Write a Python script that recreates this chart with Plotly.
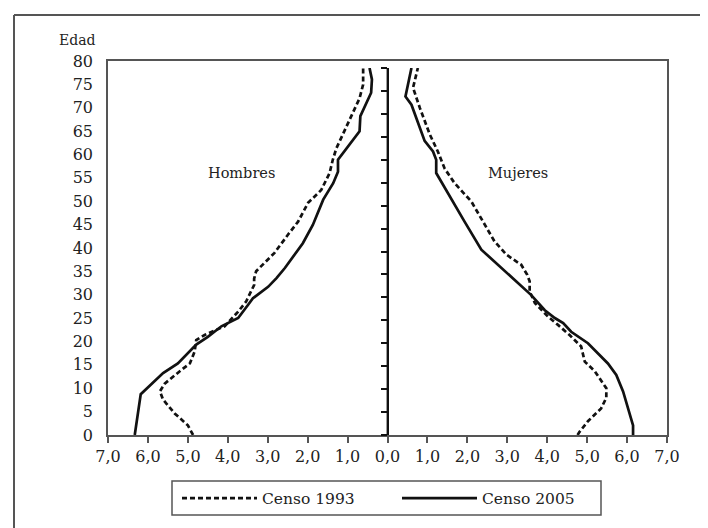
import plotly.graph_objects as go

# ---------------- data (age, % of population) ----------------
ages_h2005 = [0, 8.9, 13.5, 15.6, 19.7, 21.4, 23.7, 25.5, 28.4, 29.8, 32.3, 34.2, 36.4, 41.8, 45.8, 51.3, 54.9, 57.4, 60, 66.2, 69.5, 72.4, 74.6, 77.5, 80]
vals_h2005 = [6.33, 6.18, 5.62, 5.25, 4.79, 4.50, 4.16, 3.74, 3.49, 3.37, 2.99, 2.78, 2.57, 2.12, 1.87, 1.61, 1.36, 1.24, 1.24, 0.70, 0.68, 0.53, 0.41, 0.39, 0.45]

ages_h1993 = [0, 2.1, 4.7, 7.7, 9.5, 11.2, 14.2, 15.6, 18.2, 20.7, 21.8, 23.7, 26.9, 29.1, 32.7, 34.1, 35.7, 39.7, 43.7, 46.5, 50.6, 53.4, 57.1, 60, 62.5, 67.3, 70.6, 73.4, 76.4, 80]
vals_h1993 = [4.87, 5.00, 5.33, 5.62, 5.70, 5.58, 5.16, 4.95, 4.83, 4.79, 4.58, 4.08, 3.74, 3.54, 3.34, 3.34, 3.29, 2.83, 2.49, 2.24, 1.99, 1.66, 1.45, 1.37, 1.28, 1.03, 0.86, 0.70, 0.61, 0.61]

ages_m2005 = [0, 2.1, 9.5, 13.1, 15.6, 20, 22.5, 24.4, 25.5, 27.2, 30.5, 33.9, 37.2, 40.4, 46.5, 50.2, 57.1, 60, 61.8, 64.1, 72, 73.8, 80]
vals_m2005 = [6.15, 6.15, 5.90, 5.73, 5.52, 5.02, 4.60, 4.40, 4.19, 3.94, 3.60, 3.18, 2.75, 2.35, 1.93, 1.68, 1.22, 1.22, 1.14, 0.93, 0.60, 0.45, 0.60]

ages_m1993 = [0, 0.7, 3, 5.8, 8.1, 10.2, 13.9, 16, 19.3, 21.8, 24, 25.8, 28.8, 31.3, 33.5, 34.9, 37.1, 39.3, 42.2, 47.3, 50.9, 54.9, 58.1, 61.8, 65.5, 71.3, 75.7, 80]
vals_m1993 = [4.76, 4.81, 5.02, 5.35, 5.48, 5.48, 5.19, 4.94, 4.85, 4.56, 4.27, 4.02, 3.69, 3.56, 3.56, 3.50, 3.35, 2.98, 2.68, 2.35, 2.10, 1.68, 1.43, 1.26, 1.06, 0.81, 0.64, 0.76]

x_tickvals = [-7, -6, -5, -4, -3, -2, -1, 0, 1, 2, 3, 4, 5, 6, 7]
x_ticktext = ["7,0", "6,0", "5,0", "4,0", "3,0", "2,0", "1,0", "0,0", "1,0", "2,0", "3,0", "4,0", "5,0", "6,0", "7,0"]
y_tickvals = list(range(0, 81, 5))

series_names = ["Censo 1993", "Censo 2005"]
side_labels = ["Hombres", "Mujeres"]

# ---------------- layout constants ----------------
W, H = 708, 528
ML, MR, MT, MB = 100, 49, 53, 101
PW, PH = W - ML - MR, H - MT - MB
FONT = "DejaVu Serif"
AXC = "#555555"
INK = "#111111"
TXT = "#222222"
CENTER_TOP_PX = 60  # top of the central (age) axis in pixels


def px_x(px):
    return (px - ML) / PW


def px_y(py):
    return (H - MB - py) / PH


dash = "5px,3px"
LW = 2.7

fig = go.Figure()
# Hombres (plotted to the left)
fig.add_trace(go.Scatter(x=[-v for v in vals_h1993], y=ages_h1993, mode="lines",
                         name=series_names[0], legendgroup="1993", legend="legend",
                         yaxis="y2", line=dict(color=INK, width=LW, dash=dash)))
fig.add_trace(go.Scatter(x=[-v for v in vals_h2005], y=ages_h2005, mode="lines",
                         name=series_names[1], legendgroup="2005", legend="legend2",
                         yaxis="y2", line=dict(color=INK, width=LW)))
# Mujeres (plotted to the right)
fig.add_trace(go.Scatter(x=vals_m1993, y=ages_m1993, mode="lines",
                         name=series_names[0], legendgroup="1993", showlegend=False,
                         yaxis="y2", line=dict(color=INK, width=LW, dash=dash)))
fig.add_trace(go.Scatter(x=vals_m2005, y=ages_m2005, mode="lines",
                         name=series_names[1], legendgroup="2005", showlegend=False,
                         yaxis="y2", line=dict(color=INK, width=LW)))

legend_common = dict(orientation="h", yanchor="middle", xanchor="left",
                     borderwidth=0, bgcolor="rgba(0,0,0,0)", itemwidth=75,
                     font=dict(family=FONT, size=15.5, color=TXT))

fig.update_layout(
    width=W, height=H,
    margin=dict(l=ML, r=MR, t=MT, b=MB),
    paper_bgcolor="white", plot_bgcolor="white",
    font=dict(family=FONT, color=TXT, size=16),
    xaxis=dict(range=[-7, 7], tickvals=x_tickvals, ticktext=x_ticktext,
               showgrid=False, zeroline=False, showline=True, linecolor=AXC,
               linewidth=1.5, mirror=True, ticks="outside", ticklen=6,
               tickcolor=AXC, tickwidth=1.5, tickfont=dict(size=16, family=FONT)),
    yaxis=dict(range=[0, 80], domain=[0, 1], tickvals=y_tickvals, showgrid=False,
               zeroline=False, showline=True, linecolor=AXC, linewidth=1.5,
               mirror=True, ticks="outside", ticklen=10, tickcolor="rgba(0,0,0,0)",
               tickfont=dict(size=16, family=FONT)),
    yaxis2=dict(range=[0, 80], domain=[0, px_y(CENTER_TOP_PX)], tickvals=y_tickvals,
                anchor="free", position=0.5, side="left", showgrid=False,
                zeroline=False, showline=True, linecolor=INK, linewidth=1.8,
                ticks="outside", ticklen=6, tickcolor=INK, tickwidth=1.5,
                showticklabels=False),
    showlegend=True,
    legend=dict(legend_common, x=px_x(169), y=px_y(490.5)),
    legend2=dict(legend_common, x=px_x(389), y=px_y(490.5)),
    annotations=[
        dict(text="Edad", x=px_x(69.5), y=px_y(32), xref="paper", yref="paper",
             showarrow=False, xanchor="center", yanchor="middle",
             font=dict(family=FONT, size=14, color=TXT)),
        dict(text=side_labels[0], x=-3.65, y=56, xref="x", yref="y",
             showarrow=False, font=dict(family=FONT, size=14.5, color=TXT)),
        dict(text=side_labels[1], x=3.27, y=56, xref="x", yref="y",
             showarrow=False, font=dict(family=FONT, size=14.5, color=TXT)),
    ],
    shapes=[
        # outer frame (top and left edges visible)
        dict(type="line", xref="paper", yref="paper", x0=px_x(6), x1=px_x(6),
             y0=px_y(7), y1=px_y(540), line=dict(color=AXC, width=2)),
        dict(type="line", xref="paper", yref="paper", x0=px_x(6), x1=px_x(720),
             y0=px_y(7), y1=px_y(7), line=dict(color=AXC, width=2)),
        # legend box
        dict(type="rect", xref="paper", yref="paper", x0=px_x(164), x1=px_x(593),
             y0=px_y(507), y1=px_y(473), line=dict(color=AXC, width=1.5)),
        # central age axis line (reinforced)
        dict(type="line", xref="x", yref="paper", x0=0, x1=0,
             y0=0, y1=px_y(CENTER_TOP_PX), layer="above",
             line=dict(color=INK, width=1.8)),
    ],
)

fig.write_html("out.html")
